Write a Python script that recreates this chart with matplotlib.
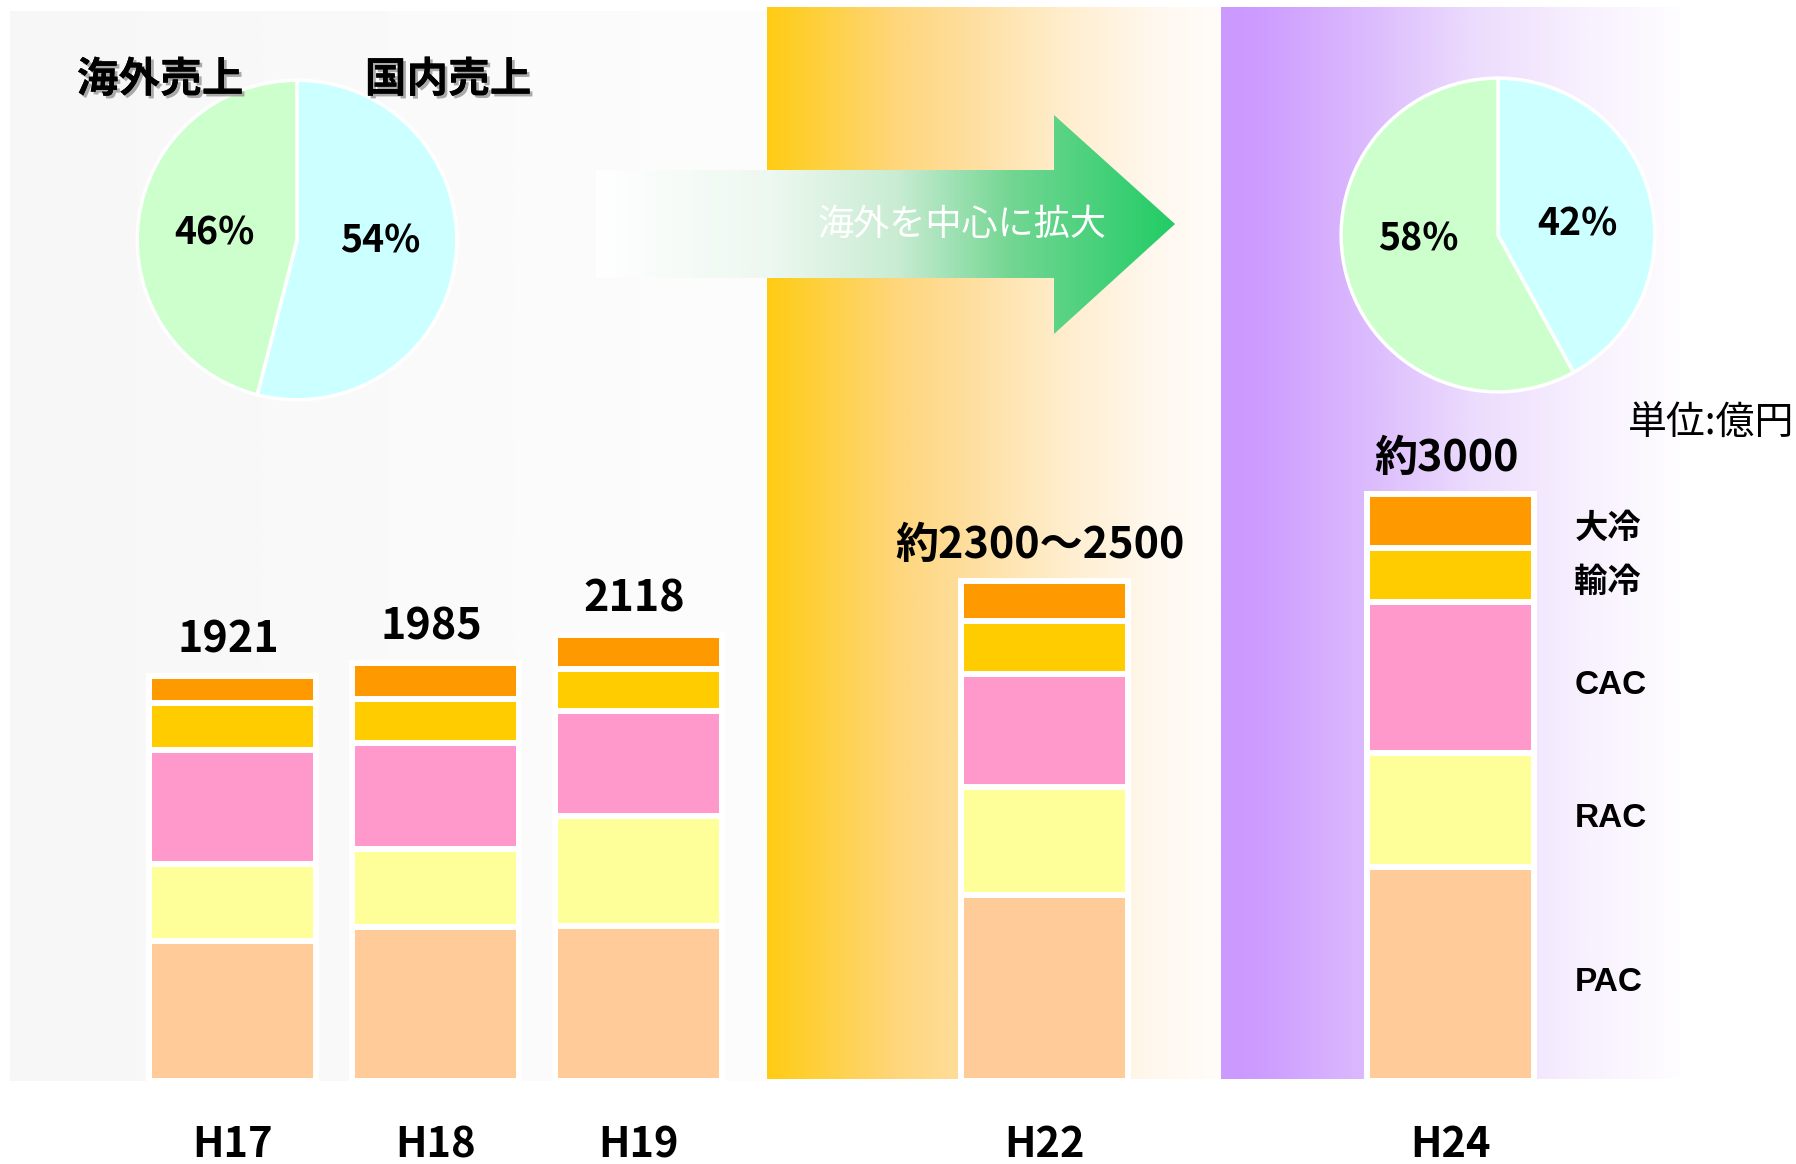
import numpy as np
import matplotlib
matplotlib.use("Agg")
import matplotlib.pyplot as plt
import matplotlib.patheffects as pe
from matplotlib.colors import LinearSegmentedColormap
from matplotlib.patches import Polygon

plt.rcParams['font.family'] = ['Noto Sans CJK JP', 'DejaVu Sans']

# %% Data (億円)
years = ["H17", "H18", "H19", "H22", "H24"]
segments = ["PAC", "RAC", "CAC", "輸冷", "大冷"]
pac = [662, 730, 737, 881, 1015]
rac = [369, 371, 520, 512, 539]
cac = [537, 503, 496, 539, 720]
yurei = [227, 208, 202, 249, 256]
dairei = [126, 173, 163, 189, 255]
total_labels = ["1921", "1985", "2118", "約2300～2500", "約3000"]

pie_titles = ["海外売上", "国内売上"]
share_before = [54, 46]   # domestic, overseas
share_h24 = [42, 58]      # domestic, overseas
arrow_text = "海外を中心に拡大"
unit_text = "単位:億円"

# %% Layout / style
W, H = 1796, 1164
seg_colors = ["#ffcc99", "#ffff99", "#ff99cc", "#ffcc00", "#ff9900"]
pie_colors = ["#ccffff", "#ccffcc"]
slot = [0, 1, 2, 4, 6]          # horizontal slots of the bars
slot_px, first_px = 203, 232.5  # px per slot, px of first bar centre
px_per_unit, base_px = 0.2108, 83


def fig_rect(x0, y0, x1, y1):
    return [x0 / W, 1 - y1 / H, (x1 - x0) / W, (y1 - y0) / H]


def hgrad(ax, x0, x1, y0, y1, stops, z=0, clip=None):
    cmap = LinearSegmentedColormap.from_list("g", stops)
    im = ax.imshow(np.linspace(0, 1, 512)[None, :], cmap=cmap, aspect="auto",
                   extent=(x0, x1, y1, y0), zorder=z, interpolation="bilinear")
    if clip is not None:
        im.set_clip_path(clip)
    return im


fig = plt.figure(figsize=(W / 100, H / 100), dpi=100)

# %% Background panels and arrow (pixel coordinates)
bg = fig.add_axes([0, 0, 1, 1])
bg.axis("off")
hgrad(bg, 10, 767, 11, 1081, ["#f7f7f7", "#fafafa", "#fdfdfd"])
hgrad(bg, 767, 1221, 7, 1079,
      [(0, "#ffcc14"), (0.28, "#fed67a"), (0.42, "#fedd99"),
       (0.65, "#ffedcc"), (0.85, "#fff8ee"), (1, "#fffcfa")])
hgrad(bg, 1221, 1680, 7, 1079,
      [(0, "#cc99ff"), (0.08, "#cd9cff"), (0.3, "#dab8fd"),
       (0.55, "#ecdcfd"), (0.8, "#f8f1fe"), (1, "#fefdff")])

arrow = Polygon([(596, 170), (1054, 170), (1054, 115), (1175, 224),
                 (1054, 334), (1054, 278), (596, 278)],
                closed=True, facecolor="none", edgecolor="none")
bg.add_patch(arrow)
hgrad(bg, 596, 1175, 115, 334,
      [(0, "#ffffff"), (0.3, "#edf8f0"), (0.52, "#c9ecd3"),
       (0.72, "#72d692"), (1, "#22cc66")], z=2, clip=arrow)
bg.text(962, 225, arrow_text, color="white", fontsize=26,
        ha="center", va="center", zorder=3)
bg.set_xlim(0, W)
bg.set_ylim(H, 0)

# %% Stacked bars
ax = fig.add_axes([0, 0, 1, 1])
ax.patch.set_alpha(0)
ax.axis("off")
ax.set_xlim(-first_px / slot_px, (W - first_px) / slot_px)
ax.set_ylim(-base_px / px_per_unit, (H - base_px) / px_per_unit)

series = [pac, rac, cac, yurei, dairei]
bottom = np.zeros(len(years))
for vals, col in zip(series, seg_colors):
    ax.bar(slot, vals, bottom=bottom, width=0.82, color=col,
           edgecolor="white", linewidth=4.3)
    bottom += np.array(vals)

for pos, tot, lbl in zip(slot, bottom, total_labels):
    ax.annotate(lbl, (pos, tot), xytext=(-3, 26), textcoords="offset points",
                ha="center", va="center", fontsize=31, fontweight="bold")

for pos, yr in zip(slot, years):
    ax.text(pos, 0.016, yr, transform=ax.get_xaxis_transform(),
            ha="center", va="center", fontsize=30, fontweight="bold")

# segment names beside the last bar
last = [s[-1] for s in series]
mids = np.cumsum(last) - np.array(last) / 2
for name, m in zip(segments, mids):
    ax.annotate(name, (slot[-1] + 0.61, m), xytext=(0, -6),
                textcoords="offset points", ha="left", va="center",
                fontsize=24, fontweight="bold",
                family=["Liberation Sans", "Noto Sans CJK JP"])

fig.text(0.999, 1 - 424 / H, unit_text, ha="right", va="center", fontsize=28)


# %% Pies
def draw_pie(cx, cy, r, shares):
    pa = fig.add_axes(fig_rect(cx - r, cy - r, cx + r, cy + r))
    wedges, _, autos = pa.pie(shares, colors=pie_colors, startangle=90,
                              counterclock=False, autopct="%.0f%%",
                              pctdistance=0.55, radius=1,
                              wedgeprops=dict(edgecolor="white", linewidth=2.5))
    for t in autos:
        x, y = t.get_position()
        t.set_position((0.95 * x, 0.35 * y + 0.02))
        t.set_fontsize(27)
        t.set_fontweight("bold")
    pa.set_xlim(-1.02, 1.02)
    pa.set_ylim(-1.02, 1.02)
    pa.set_aspect("equal")
    return pa


draw_pie(297, 240, 163, share_before)
draw_pie(1498, 235, 160, share_h24)

shadow = [pe.withSimplePatchShadow(offset=(2, -2), shadow_rgbFace="#888888", alpha=0.7),
          pe.Normal()]
for title, x in zip(pie_titles, [160, 448]):
    fig.text(x / W, 1 - 80 / H, title, ha="center", va="center", fontsize=30,
             fontweight="bold", path_effects=shadow)

fig.savefig("out.png", dpi=100)
